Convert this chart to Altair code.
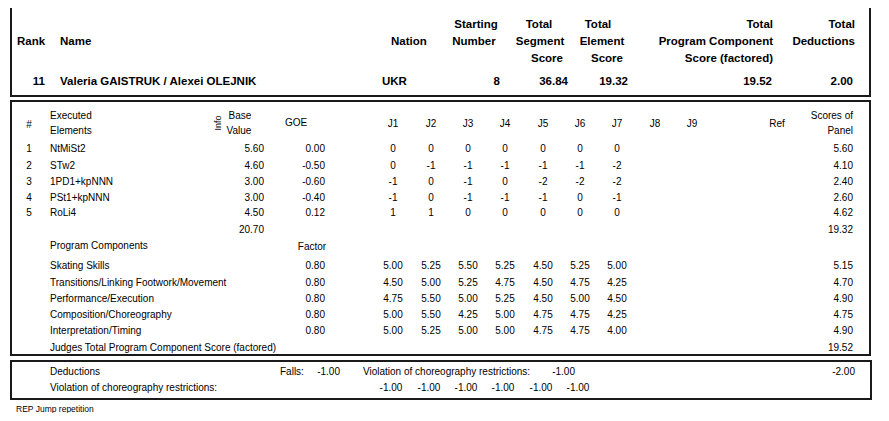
import altair as alt
import pandas as pd

# ---------------- data ----------------
rank = "11"
skater = "Valeria GAISTRUK / Alexei OLEJNIK"
nation = "UKR"
starting_number = "8"
total_segment = "36.84"
total_element = "19.32"
total_pcs = "19.52"
total_deductions = "2.00"

elem_no = ["1", "2", "3", "4", "5"]
elements = ["NtMiSt2", "STw2", "1PD1+kpNNN", "PSt1+kpNNN", "RoLi4"]
base_value = ["5.60", "4.60", "3.00", "3.00", "4.50"]
goe = ["0.00", "-0.50", "-0.60", "-0.40", "0.12"]
judge_goe = [
    ["0", "0", "0", "0", "0", "0", "0"],
    ["0", "-1", "-1", "-1", "-1", "-1", "-2"],
    ["-1", "0", "-1", "0", "-2", "-2", "-2"],
    ["-1", "0", "-1", "-1", "-1", "0", "-1"],
    ["1", "1", "0", "0", "0", "0", "0"],
]
panel_score = ["5.60", "4.10", "2.40", "2.60", "4.62"]
base_total = "20.70"
element_total = "19.32"

judges = ["J1", "J2", "J3", "J4", "J5", "J6", "J7", "J8", "J9"]

components = ["Skating Skills", "Transitions/Linking Footwork/Movement",
              "Performance/Execution", "Composition/Choreography",
              "Interpretation/Timing"]
factor = ["0.80", "0.80", "0.80", "0.80", "0.80"]
judge_pc = [
    ["5.00", "5.25", "5.50", "5.25", "4.50", "5.25", "5.00"],
    ["4.50", "5.00", "5.25", "4.75", "4.50", "4.75", "4.25"],
    ["4.75", "5.50", "5.00", "5.25", "4.50", "5.00", "4.50"],
    ["5.00", "5.50", "4.25", "5.00", "4.75", "4.75", "4.25"],
    ["5.00", "5.25", "5.00", "5.00", "4.75", "4.75", "4.00"],
]
pc_score = ["5.15", "4.70", "4.90", "4.75", "4.90"]
pc_total = "19.52"

falls = "-1.00"
violation = "-1.00"
deduction_total = "-2.00"
violation_judges = ["-1.00", "-1.00", "-1.00", "-1.00", "-1.00", "-1.00"]
footnote = "REP Jump repetition"

# ---------------- layout ----------------
XS = alt.Scale(domain=[8, 881])
YS = alt.Scale(domain=[8, 413], reverse=True)
FONT = "Liberation Sans"

judge_x = [393, 431, 468, 505, 543, 580, 617, 655, 692]
elem_y = [149, 166, 182, 198, 213]
pc_y = [266, 283, 299, 315, 331]

groups = {}


def add(key, t, x, y):
    groups.setdefault(key, []).append({"t": t, "x": x, "y": y})


# header box
add("hb_l", "Rank", 17, 42)
add("hb_l", "Name", 60, 42)
add("hb_l", "Nation", 391, 42)
add("hb_c", "Starting", 476, 25)
add("hb_c", "Number", 474, 42)
add("hb_c", "Total", 539, 25)
add("hb_c", "Segment", 540, 42)
add("hb_r", "Score", 563, 59)
add("hb_c", "Total", 598, 25)
add("hb_c", "Element", 602, 42)
add("hb_r", "Score", 623, 59)
add("hb_r", "Total", 773, 25)
add("hb_r", "Program Component", 773, 42)
add("hb_r", "Score (factored)", 773, 59)
add("hb_r", "Total", 855, 25)
add("hb_r", "Deductions", 855, 42)
add("hb_r", rank, 45, 82)
add("hb_l", skater, 60, 82)
add("hb_l", nation, 382, 82)
add("hb_r", starting_number, 500, 82)
add("hb_r", total_segment, 568, 82)
add("hb_r", total_element, 628, 82)
add("hb_r", total_pcs, 772, 82)
add("hb_r", total_deductions, 853, 82)

# elements box header
add("n_c", "#", 29, 125)
add("n_l", "Executed", 50, 116)
add("n_l", "Elements", 50, 131)
add("n_c", "Base", 240, 116)
add("n_c", "Value", 239, 131)
add("n_c", "GOE", 296, 123)
for j, jx in zip(judges, judge_x):
    add("n_c", j, jx, 124)
add("n_c", "Ref", 777, 124)
add("n_r", "Scores of", 853, 116)
add("n_r", "Panel", 853, 131)

for i in range(len(elements)):
    y = elem_y[i]
    add("n_c", elem_no[i], 29, y)
    add("n_l", elements[i], 50, y)
    add("n_r", base_value[i], 264, y)
    add("n_r", goe[i], 325, y)
    for k, v in enumerate(judge_goe[i]):
        add("n_c", v, judge_x[k], y)
    add("n_r", panel_score[i], 853, y)
add("n_r", base_total, 264, 230)
add("n_r", element_total, 853, 230)

add("n_l", "Program Components", 50, 246)
add("n_c", "Factor", 312, 247)
for i in range(len(components)):
    y = pc_y[i]
    add("n_l", components[i], 50, y)
    add("n_r", factor[i], 325, y)
    for k, v in enumerate(judge_pc[i]):
        add("n_c", v, judge_x[k], y)
    add("n_r", pc_score[i], 853, y)
add("n_l", "Judges Total Program Component Score (factored)", 50, 348)
add("n_r", pc_total, 853, 348)

# deductions box
add("n_l", "Deductions", 50, 372)
add("n_l", "Falls:", 280, 372)
add("n_r", falls, 340, 372)
add("n_l", "Violation of choreography restrictions:", 363, 372)
add("n_r", violation, 575, 372)
add("n_r", deduction_total, 855, 372)
add("n_l", "Violation of choreography restrictions:", 50, 388)
for k, v in enumerate(violation_judges):
    add("n_c", v, judge_x[k] - 2, 388)

add("f_l", footnote, 16, 409)

styles = {
    "hb_l": dict(align="left", fontWeight="bold", fontSize=11.5),
    "hb_c": dict(align="center", fontWeight="bold", fontSize=11.5),
    "hb_r": dict(align="right", fontWeight="bold", fontSize=11.5),
    "n_l": dict(align="left", fontWeight="normal", fontSize=10),
    "n_c": dict(align="center", fontWeight="normal", fontSize=10),
    "n_r": dict(align="right", fontWeight="normal", fontSize=10),
    "f_l": dict(align="left", fontWeight="normal", fontSize=8.5),
}

layers = []

boxes = pd.DataFrame({
    "x": [11, 11, 11], "x2": [870, 870, 871],
    "y": [7, 101, 361], "y2": [96, 355, 399],
})
layers.append(
    alt.Chart(boxes).mark_rect(fill="white", stroke="#1a1a1a", strokeWidth=2).encode(
        x=alt.X("x:Q", scale=XS, axis=None), x2="x2:Q",
        y=alt.Y("y:Q", scale=YS, axis=None), y2="y2:Q")
)

for key, rows in groups.items():
    st = styles[key]
    layers.append(
        alt.Chart(pd.DataFrame(rows)).mark_text(
            baseline="middle", font=FONT, color="black", **st).encode(
            x=alt.X("x:Q", scale=XS, axis=None),
            y=alt.Y("y:Q", scale=YS, axis=None),
            text="t:N")
    )

info = pd.DataFrame([{"t": "Info", "x": 218, "y": 123}])
layers.append(
    alt.Chart(info).mark_text(baseline="middle", align="center", font=FONT,
                              fontSize=9, angle=270, color="black").encode(
        x=alt.X("x:Q", scale=XS, axis=None),
        y=alt.Y("y:Q", scale=YS, axis=None),
        text="t:N")
)

chart = alt.layer(*layers).properties(
    width=873, height=405, padding=0,
    autosize=alt.AutoSizeParams(type="none"),
    background="white",
).configure_view(stroke=None)

chart.save("out.html", embed_options={"renderer": "svg", "actions": False})
